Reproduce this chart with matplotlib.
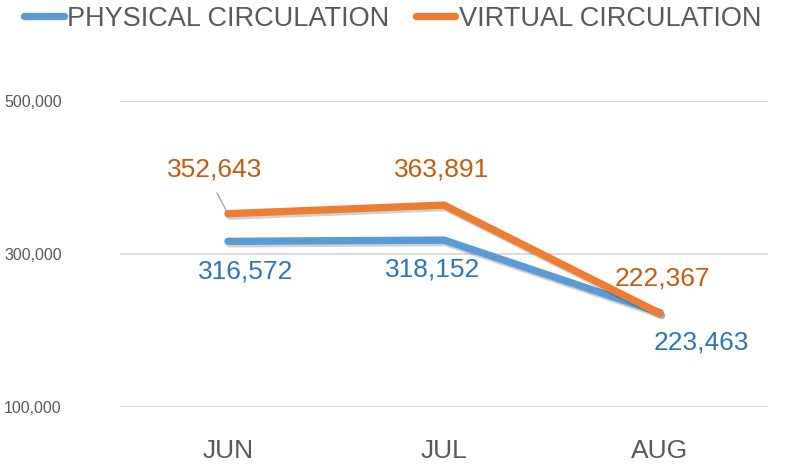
import matplotlib
matplotlib.use("Agg")
import matplotlib.pyplot as plt
import matplotlib.patheffects as pe
from matplotlib.ticker import FuncFormatter

months = ["JUN", "JUL", "AUG"]
physical = [316572, 318152, 223463]
virtual = [352643, 363891, 222367]
yticks = [100000, 300000, 500000]

plt.rcParams["font.family"] = ["Liberation Sans", "DejaVu Sans"]

blue = "#5B9BD5"
orange = "#ED7D31"
blue_txt = "#2E75B6"
orange_txt = "#C55A11"
gray = "#595959"

fig = plt.figure(figsize=(7.88, 4.65), dpi=100)
ax = fig.add_axes([120 / 788, 1 - 407 / 465, 648 / 788, 306 / 465])

x = list(range(len(months)))
shadow = [pe.SimpleLineShadow(offset=(1.2, -1.8), shadow_color="black", alpha=0.18), pe.Normal()]
l1, = ax.plot(x, physical, color=blue, lw=5.3, solid_capstyle="round",
              solid_joinstyle="round", path_effects=shadow, label="PHYSICAL CIRCULATION", zorder=3)
l2, = ax.plot(x, virtual, color=orange, lw=5.3, solid_capstyle="round",
              solid_joinstyle="round", path_effects=shadow, label="VIRTUAL CIRCULATION", zorder=4)

ax.set_xlim(-0.5, 2.5)
ax.set_ylim(100000, 500000)
ax.set_yticks(yticks)
ax.yaxis.set_major_formatter(FuncFormatter(lambda v, p: f"{int(v):,}"))
ax.set_xticks(x)
ax.set_xticklabels(months)
ax.grid(axis="y", color="#D9D9D9", lw=1.3)
ax.set_axisbelow(True)
for s in ax.spines.values():
    s.set_visible(False)
ax.tick_params(length=0, colors=gray)
ax.tick_params(axis="y", labelsize=11.5, pad=42)
ax.tick_params(axis="x", labelsize=19, pad=23)

# data labels (offsets in points)
phys_off = [(13, -21.5), (-8, -21.5), (30, -21.5)]
virt_off = [(-9.5, 31.5), (-1.5, 26), (2, 25)]
for i, v in enumerate(physical):
    ax.annotate(f"{v:,}", (i, v), xytext=phys_off[i], textcoords="offset points",
                ha="center", va="center", fontsize=19, color=blue_txt)
for i, v in enumerate(virtual):
    ax.annotate(f"{v:,}", (i, v), xytext=virt_off[i], textcoords="offset points",
                ha="center", va="center", fontsize=19, color=orange_txt)
# leader line for first label
ax.annotate("", (0, virtual[0]), xytext=(-8, 15), textcoords="offset points",
            arrowprops=dict(arrowstyle="-", color="#A6A6A6", lw=1, shrinkA=0, shrinkB=2))

leg = fig.legend(handles=[l1, l2], loc="upper left", bbox_to_anchor=(0.0, 1.04),
                 ncol=2, frameon=False, fontsize=19.5, handlelength=1.45,
                 handletextpad=0.12, columnspacing=1.0, labelcolor=gray)
for h in leg.legend_handles:
    h.set_path_effects([])
    h.set_linewidth(5.3)

fig.savefig("out.png", dpi=100)
